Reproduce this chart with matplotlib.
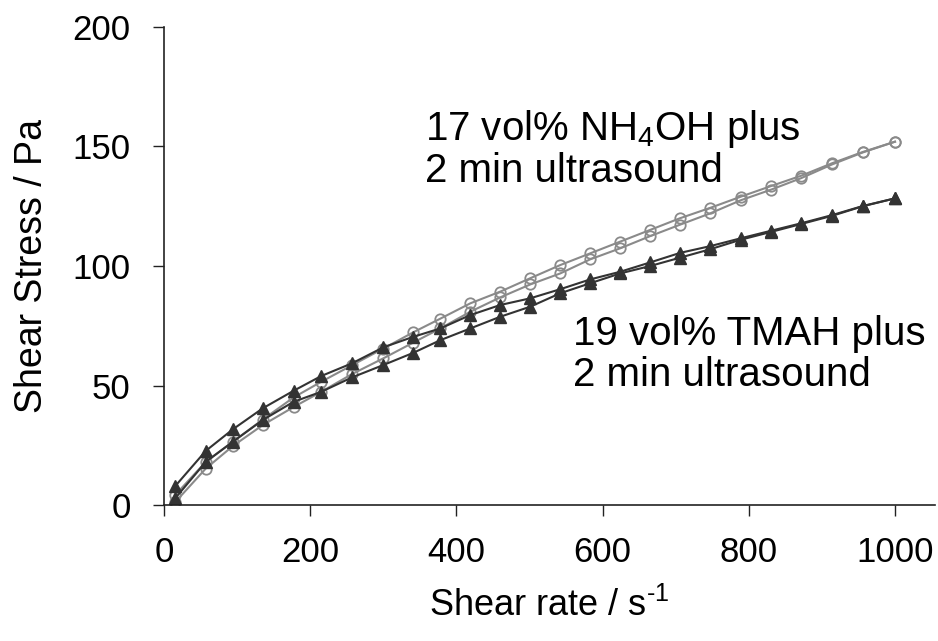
import matplotlib
matplotlib.use("Agg")
import matplotlib.pyplot as plt

plt.rcParams['font.family'] = ['Liberation Sans', 'DejaVu Sans']
plt.rcParams['mathtext.fontset'] = 'custom'
plt.rcParams['mathtext.rm'] = 'Liberation Sans'
plt.rcParams['mathtext.it'] = 'Liberation Sans'

# shear rate (1/s), same for all four curves
shear_rate = [15, 57, 94, 135, 177, 215, 257, 300, 341, 378, 419, 460, 501,
              542, 583, 624, 665, 706, 747, 789, 831, 872, 914, 956, 1000]

# 17 vol% NH4OH, two branches (up / down)
nh4oh_upper = [4.2, 18.1, 26.5, 35.8, 45.0, 51.6, 58.5, 65.5, 72.3, 78.0, 84.4, 89.3, 94.9,
               100.4, 105.3, 110.2, 115.1, 120.0, 124.3, 129.0, 133.5, 137.8, 143.0, 147.7, 152.0]
nh4oh_lower = [1.2, 15.3, 24.7, 33.5, 41.0, 47.4, 54.8, 61.4, 68.0, 73.9, 80.9, 86.9, 92.3,
               96.9, 102.8, 107.4, 112.5, 117.3, 122.0, 127.5, 132.0, 136.8, 142.5, 147.5, 152.0]

# 19 vol% TMAH, two branches
tmah_upper = [7.9, 22.7, 31.7, 40.5, 47.8, 54.0, 59.3, 66.0, 70.4, 73.9, 79.5, 83.7, 86.5,
              90.3, 94.4, 97.6, 101.5, 105.5, 108.3, 111.6, 114.8, 117.9, 121.3, 125.1, 128.3]
tmah_lower = [2.8, 18.1, 26.5, 35.6, 43.2, 47.4, 53.4, 58.6, 63.7, 69.0, 73.9, 78.8, 83.0,
              88.6, 92.8, 96.9, 100.0, 103.5, 107.0, 111.0, 114.3, 117.6, 121.0, 125.0, 128.3]

gray = '#8a8a8a'
dark = '#333333'

fig = plt.figure(figsize=(9.38, 6.41), dpi=100)
ax = fig.add_axes([0.175, 0.212, 0.822, 0.746])

for ys in (nh4oh_upper, nh4oh_lower):
    ax.plot(shear_rate, ys, '-o', color=gray, lw=1.5, markersize=7.5,
            markerfacecolor='none', markeredgecolor=gray, markeredgewidth=1.3)
for ys in (tmah_upper, tmah_lower):
    ax.plot(shear_rate, ys, '-^', color=dark, lw=1.5, markersize=9,
            markerfacecolor=dark, markeredgecolor=dark)

ax.set_xlim(0, 1055)
ax.set_ylim(0, 200)
ax.set_xticks([0, 200, 400, 600, 800, 1000])
ax.set_yticks([0, 50, 100, 150, 200])

for s in ('top', 'right'):
    ax.spines[s].set_visible(False)
for s in ('left', 'bottom'):
    ax.spines[s].set_linewidth(1.2)
    ax.spines[s].set_color('#222222')

ax.tick_params(axis='both', direction='out', length=8, width=1.0, colors='#222222',
               labelsize=25, labelcolor='black')
ax.tick_params(axis='x', pad=14)
ax.tick_params(axis='y', pad=16)

ax.set_xlabel(r'Shear rate / s$^{\text{-}1}$', fontsize=26, labelpad=14)
ax.set_ylabel('Shear Stress / Pa', fontsize=27, labelpad=16)

ax.text(357, 149, '17 vol% NH$_4$OH plus\n2 min ultrasound', fontsize=29,
        ha='left', va='center', linespacing=1.05)
ax.text(560, 63, '19 vol% TMAH plus\n2 min ultrasound', fontsize=29,
        ha='left', va='center', linespacing=1.12)

fig.savefig('out.png', dpi=100)
